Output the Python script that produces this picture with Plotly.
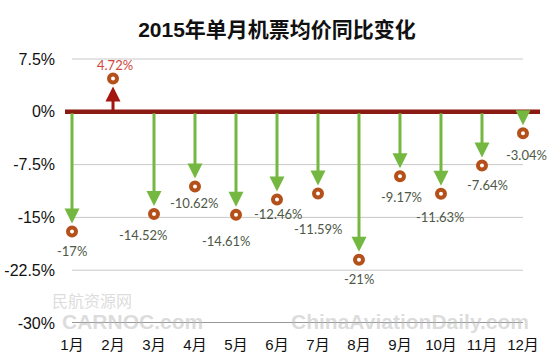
import plotly.graph_objects as go

months = ["1月", "2月", "3月", "4月", "5月", "6月", "7月", "8月", "9月", "10月", "11月", "12月"]
values = [-17, 4.72, -14.52, -10.62, -14.61, -12.46, -11.59, -21, -9.17, -11.63, -7.64, -3.04]
labels = ["-17%", "4.72%", "-14.52%", "-10.62%", "-14.61%", "-12.46%", "-11.59%",
          "-21%", "-9.17%", "-11.63%", "-7.64%", "-3.04%"]
y_ticks = [7.5, 0, -7.5, -15, -22.5, -30]
y_tick_text = ["7.5%", "0%", "-7.5%", "-15%", "-22.5%", "-30%"]
grid_levels = [7.5, -7.5, -15, -22.5]

# label offsets in pixels (dx, dy) relative to each marker
label_offsets = [(0, 20), (2, -14), (-11, 21), (-1, 16), (-10, 26), (1, 14),
                 (0, 36), (0, 19), (2, 21), (-1, 23), (6, 19), (4, 22)]

GREEN = "#74B842"
RED_ARROW = "#A3150E"
RING = "#B4501A"
ZERO = "#8B1A12"
LABEL = "#4E5846"

x = list(range(len(months)))

fig = go.Figure()
fig.add_trace(go.Scatter(
    x=x, y=values, mode="markers",
    marker=dict(symbol="circle", size=8, color="white",
                line=dict(color=RING, width=4)),
    cliponaxis=False, hoverinfo="skip", showlegend=False,
))

shapes = []
for g in grid_levels:
    shapes.append(dict(type="line", xref="x", yref="y", x0=0, x1=len(months) - 1,
                       y0=g, y1=g, line=dict(color="#C8C8C8", width=1), layer="below"))
shapes.append(dict(type="line", xref="x", yref="y", x0=0, x1=len(months) - 1,
                   y0=-30, y1=-30, line=dict(color="#333333", width=1.2), layer="below"))
shapes.append(dict(type="line", xref="paper", yref="y", x0=0, x1=1, y0=0, y1=0,
                   line=dict(color=ZERO, width=4.5), layer="above"))

annotations = []
# watermarks (drawn first, faint)
wm = "rgba(185,185,185,0.5)"
annotations += [
    dict(xref="paper", yref="paper", x=(92 - 65) / 475, y=(323 - 300) / 278,
         xanchor="center", yanchor="middle", text="民航资源网", showarrow=False,
         font=dict(family="Noto Sans CJK SC", size=16, color=wm)),
    dict(xref="paper", yref="paper", x=(132 - 65) / 475, y=(323 - 321) / 278,
         xanchor="center", yanchor="middle", text="<b>CARNOC.com</b>", showarrow=False,
         font=dict(family="Liberation Sans", size=21, color=wm)),
    dict(xref="paper", yref="paper", x=(410 - 65) / 475, y=(323 - 321) / 278,
         xanchor="center", yanchor="middle", text="<b>ChinaAviationDaily.com</b>", showarrow=False,
         font=dict(family="Liberation Sans", size=21, color=wm)),
]
for i, v in enumerate(values):
    col = GREEN if v < 0 else RED_ARROW
    annotations.append(dict(
        x=i, y=v, ax=i, ay=0, xref="x", yref="y", axref="x", ayref="y",
        text="", showarrow=True, arrowhead=2, arrowsize=1, arrowwidth=3,
        arrowcolor=col, standoff=8,
    ))
for i, (v, t) in enumerate(zip(values, labels)):
    dx, dy = label_offsets[i]
    annotations.append(dict(
        x=i, y=v, xref="x", yref="y", text=t, showarrow=False,
        xshift=dx, yshift=-dy,
        font=dict(family="Lato, Noto Sans", size=13,
                  color="#D0463C" if v > 0 else LABEL),
    ))

fig.update_layout(
    width=554, height=353,
    margin=dict(l=65, r=14, t=45, b=30),
    paper_bgcolor="white", plot_bgcolor="white",
    title=dict(text="<b>2015年单月机票均价同比变化</b>", x=0.5, xanchor="center",
               y=1 - 30 / 353, yanchor="middle",
               font=dict(family="Liberation Sans, Noto Sans CJK SC", size=21, color="#111111")),
    xaxis=dict(range=[-0.171, 11.415], tickmode="array", tickvals=x, ticktext=months,
               showgrid=False, zeroline=False, showline=False, ticks="",
               ticklabelstandoff=11, automargin=False,
               tickfont=dict(family="Liberation Sans, Noto Sans CJK SC", size=15, color="#111111")),
    yaxis=dict(range=[-30, 9.49], tickmode="array", tickvals=y_ticks, ticktext=y_tick_text,
               showgrid=False, zeroline=False, showline=False, ticks="",
               ticklabelstandoff=9, automargin=False,
               tickfont=dict(family="Liberation Sans", size=16, color="#111111")),
    shapes=shapes, annotations=annotations,
)

fig.write_html("out.html")
